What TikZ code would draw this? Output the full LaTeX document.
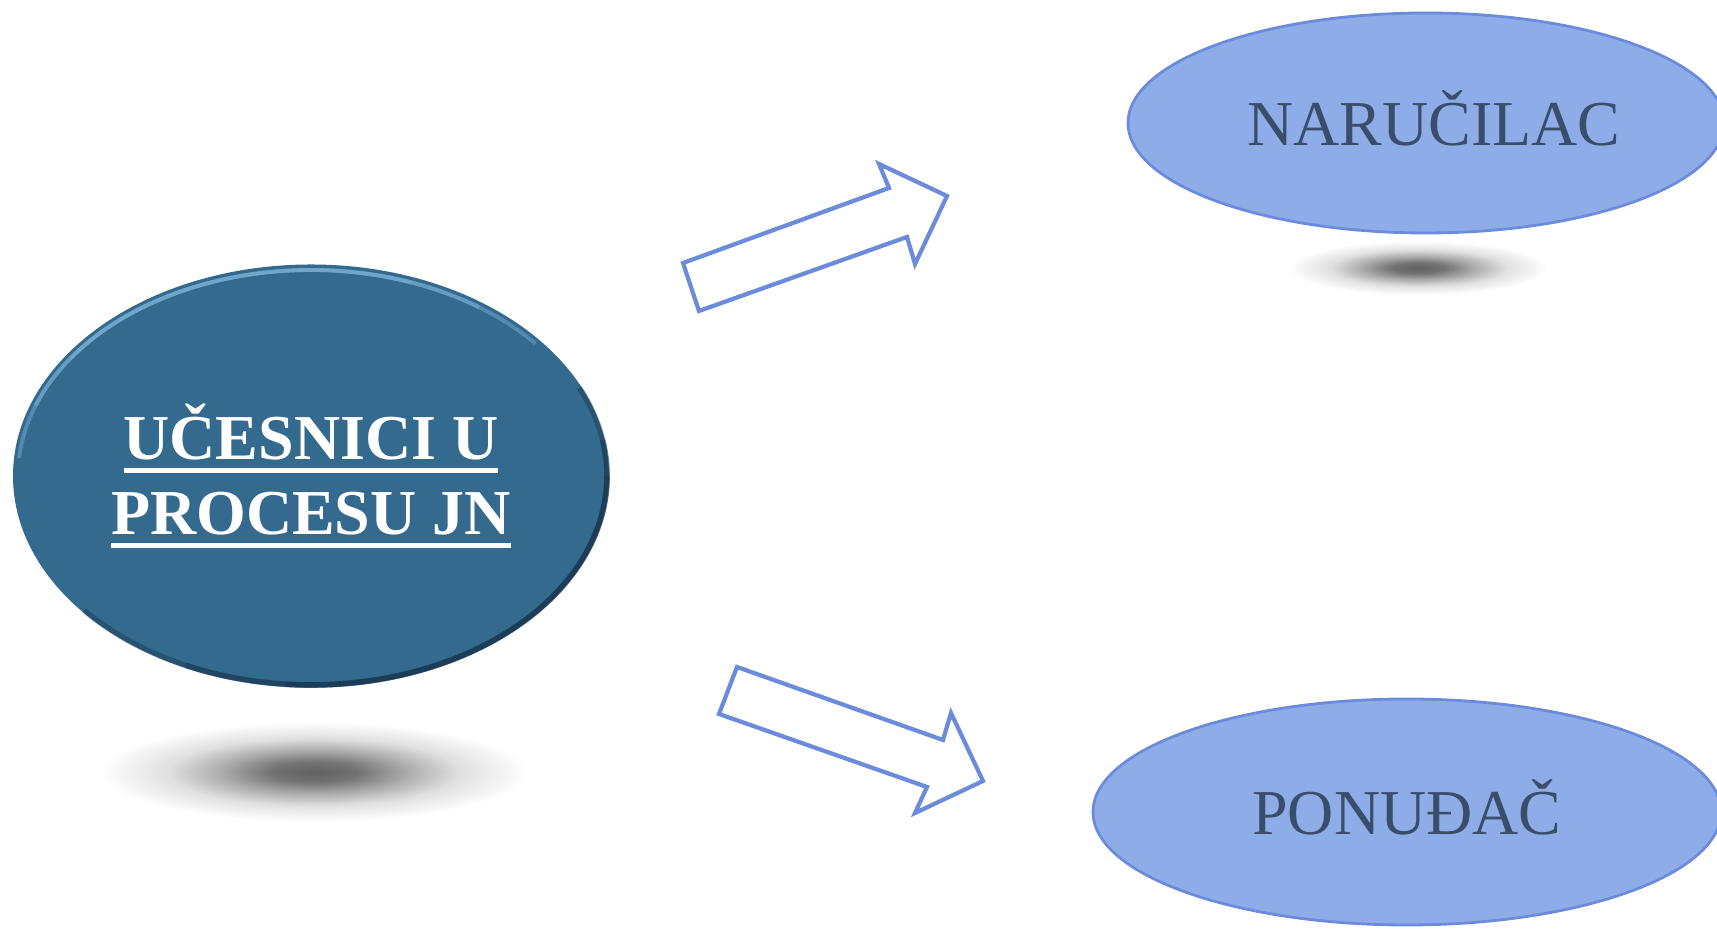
\documentclass[tikz,border=0pt]{standalone}
\usepackage{fontspec}
\setmainfont{Liberation Serif}
\usetikzlibrary{shapes.geometric}
\definecolor{deepblue}{HTML}{336A8E}
\definecolor{rimblue}{HTML}{17324A}
\definecolor{glowblue}{HTML}{7FB3DA}
\definecolor{paleblue}{HTML}{8EADE8}
\definecolor{lineblue}{HTML}{6C8CDB}
\definecolor{slate}{HTML}{394E6B}
\pgfdeclareradialshading{softshadow}{\pgfpoint{0bp}{0bp}}{color(0bp)=(black!62);
  color(5bp)=(black!55); color(11bp)=(black!32); color(17bp)=(black!12);
  color(25bp)=(white); color(50bp)=(white)}
\newsavebox\ulwordbox
\newcommand{\ulword}[1]{\sbox\ulwordbox{#1}\rlap{\rule[-3.6pt]{\wd\ulwordbox}{1.4pt}}\usebox\ulwordbox}
\tikzset{party/.style={fill=paleblue,draw=lineblue,line width=0.8pt,
                      minimum width=5.96cm,text=slate,
                      font=\fontsize{18.2}{21}\selectfont,text height=0.45cm,text depth=0cm},
         blockarrow/.style={draw=lineblue,line width=1.2pt,fill=white,line join=miter}}
\begin{document}
\begin{tikzpicture}[every node/.style={shape=ellipse,inner sep=0pt}]
                  \useasboundingbox (0,0) rectangle (17.17,9.30);
                  \clip (0,0) rectangle (17.17,9.30);
                  \shade[shading=softshadow] (3.14,1.58) ellipse [x radius=2.15,y radius=0.5];
                  \shade[shading=softshadow] (14.18,6.62) ellipse [x radius=1.3,y radius=0.27];
                  \node[fill=deepblue,minimum width=5.96cm,minimum height=4.23cm,
                        text=white,align=center,font=\fontsize{18.2}{21.3}\selectfont\bfseries]
                        (ucesnici) at (3.11,4.54) {\ulword{UČESNICI U}\\\ulword{PROCESU JN}};
                  \foreach \a/\b in {175/40,160/55,145/70}
                    \draw[glowblue,line width=1.1pt,opacity=0.45] (3.11,4.54) ++(\a:2.93 and 2.06)
                          arc[start angle=\a,end angle=\b,x radius=2.93,y radius=2.06];
                  \foreach \a/\b in {-140/25,-115/10,-95/0}
                    \draw[rimblue,line width=1.6pt,opacity=0.4] (3.11,4.54) ++(\a:2.96 and 2.09)
                          arc[start angle=\a,end angle=\b,x radius=2.96,y radius=2.09];
                  \node[party,minimum height=2.20cm] (narucilac) at (14.26,8.07) {\hspace{0.16cm}NARUČILAC};
                  \node[party,minimum width=6.28cm,minimum height=2.26cm] (ponudjac) at (14.07,1.18) {PONUĐAČ};
                  \draw[blockarrow] (6.99,6.19) -- (6.83,6.67) -- (8.89,7.42) -- (8.79,7.66)
                        -- (9.47,7.34) -- (9.15,6.66) -- (9.07,6.93) -- cycle;
                  \draw[blockarrow] (7.37,2.63) -- (9.43,1.90) -- (9.51,2.17) -- (9.83,1.49)
                        -- (9.15,1.17) -- (9.27,1.43) -- (7.19,2.16) -- cycle;
\end{tikzpicture}
\end{document}
